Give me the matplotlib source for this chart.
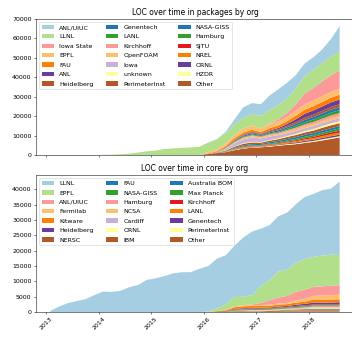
import matplotlib
matplotlib.use("Agg")
import matplotlib.pyplot as plt
import pandas as pd

# bimonthly samples, Feb 2013 .. Aug 2018
dates = pd.date_range("2013-02-01", "2018-08-01", freq="2MS")
n = len(dates)


def pad(v):
    # series that only start later are zero before their first value
    return [0] * (n - len(v)) + v


# Paired palette
LB, DB, LG, G = "#a6cee3", "#1f78b4", "#b2df8a", "#33a02c"
PK, R, LO, O = "#fb9a99", "#e31a1c", "#fdbf6f", "#ff7f00"
LV, PU, Y, BR = "#cab2d6", "#6a3d9a", "#ffff99", "#b15928"

# ---------------- packages (legend order = top of stack first) ----------------
pkg_orgs = ["ANL/UIUC", "LLNL", "Iowa State", "EPFL", "FAU", "ANL", "Heidelberg",
            "Genentech", "LANL", "Kirchhoff", "OpenFOAM", "Iowa", "unknown", "PerimeterInst",
            "NASA-GISS", "Hamburg", "SJTU", "NREL", "ORNL", "HZDR", "Other"]
pkg_colors = [LB, LG, PK, LO, O, PU, BR,
              DB, G, PK, LO, LV, Y, BR,
              DB, G, R, O, PU, Y, BR]
pkg_loc = [
    pad([0, 300, 800, 2500, 5500, 5500, 6000, 7500, 8000, 8000, 7000, 6500, 6500, 7000, 9000, 13000]),  # ANL/UIUC
    [0, 0, 0, 0, 0, 0, 100, 200, 400, 700, 1300, 1900, 2300, 3100, 3400, 3700, 3900, 4300,
     4800, 5000, 5200, 5500, 5500, 6000, 6500, 7000, 7500, 7500, 8000, 9000, 9300, 9500, 9600, 9800],  # LLNL
    pad([0, 0, 0, 0, 0, 0, 0, 300, 1000, 2000, 3500, 5500, 6500, 7500, 8500, 9500]),  # Iowa State
    pad([800, 1000, 1300, 1700, 2000, 2200, 1800, 2000, 2100, 2200, 2500, 2800, 2900, 3000, 3000, 3000]),  # EPFL
    pad([300, 500, 700, 900, 1000, 1000, 900, 1200, 1300, 1500, 1800, 2100, 2200, 2300, 2400, 2500]),  # FAU
    pad([0, 0, 0, 0, 200, 300, 300, 400, 600, 1000, 1500, 2000, 2200, 2300, 2400, 2500]),  # ANL
    pad([0, 0, 100, 300, 400, 500, 400, 500, 600, 700, 900, 1100, 1200, 1300, 1400, 1500]),  # Heidelberg
    pad([0, 0, 200, 400, 500, 600, 500, 600, 700, 800, 1000, 1200, 1300, 1400, 1500, 1500]),  # Genentech
    pad([0, 0, 100, 300, 400, 400, 300, 400, 500, 700, 900, 1100, 1200, 1300, 1400, 1500]),  # LANL
    pad([0, 0, 100, 300, 400, 500, 400, 500, 600, 700, 800, 1000, 1100, 1200, 1400, 1500]),  # Kirchhoff
    pad([0, 0, 200, 400, 600, 700, 600, 700, 700, 800, 900, 1000, 1100, 1100, 1200, 1200]),  # OpenFOAM
    pad([0, 200, 800, 1500, 2000, 2200, 1800, 1800, 1600, 1500, 1500, 1500, 1500, 1500, 1500, 1500]),  # Iowa
    pad([0, 0, 100, 200, 300, 300, 300, 300, 400, 500, 600, 700, 800, 900, 1000, 1000]),  # unknown
    pad([0, 100, 300, 600, 800, 900, 700, 800, 900, 1000, 1100, 1200, 1300, 1400, 1500, 1500]),  # PerimeterInst
    pad([0, 100, 200, 400, 500, 600, 500, 600, 700, 800, 900, 1000, 1000, 1100, 1100, 1200]),  # NASA-GISS
    pad([0, 0, 100, 200, 300, 300, 300, 400, 500, 600, 700, 800, 900, 1000, 1100, 1200]),  # Hamburg
    pad([0, 0, 0, 100, 200, 200, 200, 300, 300, 400, 500, 600, 700, 800, 900, 1000]),  # SJTU
    pad([0, 0, 100, 200, 300, 300, 300, 400, 400, 500, 600, 700, 800, 900, 1000, 1000]),  # NREL
    pad([0, 0, 0, 100, 200, 200, 200, 300, 300, 400, 500, 600, 600, 700, 800, 800]),  # ORNL
    pad([0, 0, 100, 200, 200, 200, 200, 300, 300, 400, 400, 500, 500, 600, 600, 600]),  # HZDR
    pad([500, 1000, 1500, 2500, 3300, 3800, 4000, 4300, 4800, 5200, 5600, 6200, 6800, 7500, 8300, 9100]),  # Other
]

# ---------------- core ----------------
core_orgs = ["LLNL", "EPFL", "ANL/UIUC", "Fermilab", "Kitware", "Heidelberg", "NERSC",
             "FAU", "NASA-GISS", "Hamburg", "NCSA", "Cardiff", "ORNL", "IBM",
             "Australia BOM", "Max Planck", "Kirchhoff", "LANL", "Genentech", "PerimeterInst", "Other"]
core_colors = pkg_colors
core_loc = [
    [400, 1800, 2900, 3600, 4200, 5500, 6700, 6600, 6900, 8100, 8800, 10500, 11000, 11700, 12600, 13000,
     13000, 14100, 14800, 16200, 16000, 16700, 19300, 20700, 18700, 18000, 18000, 18600, 19000, 20200,
     20500, 21300, 21500, 23900],  # LLNL
    pad([200, 900, 1700, 3000, 2700, 3000, 5500, 6500, 8500, 8500, 9500, 10000, 9800, 10000, 10100, 9800]),  # EPFL
    pad([0, 0, 0, 0, 100, 200, 700, 1400, 1900, 2300, 2800, 3000, 2900, 3000, 3100, 3100]),  # ANL/UIUC
    pad([0, 0, 200, 300, 300, 300, 300, 300, 400, 400, 700, 900, 1200, 1300, 1400, 1500]),  # Fermilab
    pad([0, 100, 200, 500, 600, 600, 600, 600, 600, 600, 700, 700, 1000, 1000, 1000, 1000]),  # Kitware
    pad([0, 0, 0, 100, 200, 200, 200, 200, 300, 300, 400, 500, 600, 600, 600, 700]),  # Heidelberg
    pad([0, 0, 100, 200, 200, 200, 200, 200, 200, 200, 300, 300, 300, 300, 300, 300]),  # NERSC
    pad([0, 0, 0, 100, 100, 100, 100, 100, 100, 100, 100, 100, 100, 100, 100, 100]),  # FAU
    pad([0, 0, 100, 200, 200, 200, 200, 200, 200, 200, 200, 200, 200, 200, 200, 200]),  # NASA-GISS
    pad([0, 0, 0, 100, 100, 100, 100, 100, 100, 100, 200, 200, 200, 200, 200, 200]),  # Hamburg
    pad([0, 0, 0, 100, 100, 100, 100, 100, 100, 100, 100, 100, 200, 200, 200, 200]),  # NCSA
    pad([0, 0, 0, 0, 100, 100, 100, 100, 100, 100, 100, 200, 200, 200, 200, 200]),  # Cardiff
    pad([0, 0, 0, 0, 0, 100, 100, 100, 100, 100, 100, 100, 200, 200, 200, 200]),  # ORNL
    pad([0, 0, 0, 100, 100, 100, 100, 100, 100, 100, 100, 100, 100, 100, 100, 100]),  # IBM
    pad([0, 0, 0, 0, 0, 0, 0, 0, 0, 100, 100, 100, 100, 100, 100, 100]),  # Australia BOM
    pad([0, 0, 0, 0, 0, 0, 0, 0, 100, 100, 100, 100, 100, 100, 100, 100]),  # Max Planck
    pad([0, 0, 0, 0, 0, 0, 0, 0, 0, 0, 0, 100, 100, 100, 100, 100]),  # Kirchhoff
    pad([0, 0, 0, 0, 0, 0, 0, 0, 100, 100, 100, 100, 100, 100, 100, 100]),  # LANL
    pad([0, 0, 0, 0, 0, 0, 0, 0, 0, 0, 100, 100, 200, 200, 200, 200]),  # Genentech
    pad([0, 0, 0, 0, 0, 0, 0, 0, 0, 100, 100, 100, 100, 100, 100, 100]),  # PerimeterInst
    pad([0, 200, 200, 200, 200, 200, 200, 300, 300, 300, 300, 300, 300, 300, 300, 300]),  # Other
]

fig = plt.figure(figsize=(352 / 45, 340 / 45), dpi=45)
ax1 = fig.add_axes([0.102, 0.544, 0.904, 0.400])
ax2 = fig.add_axes([0.102, 0.082, 0.904, 0.403], sharex=ax1)


def stack(ax, orgs, colors, loc, title):
    # first entry goes on top, so stack in reverse
    polys = ax.stackplot(dates, loc[::-1], labels=orgs[::-1], colors=colors[::-1])
    ax.legend(polys[::-1], orgs, loc="upper left", ncol=3, labelspacing=0.65)
    ax.set_title(title)
    ax.spines["right"].set_visible(False)


stack(ax1, pkg_orgs, pkg_colors, pkg_loc, "LOC over time in packages by org")
stack(ax2, core_orgs, core_colors, core_loc, "LOC over time in core by org")
ax1.set_ylim(0, 70000)
plt.setp(ax1.get_xticklabels(), visible=False)
plt.setp(ax2.get_xticklabels(), rotation=45)

fig.savefig("out.png", dpi=45)
